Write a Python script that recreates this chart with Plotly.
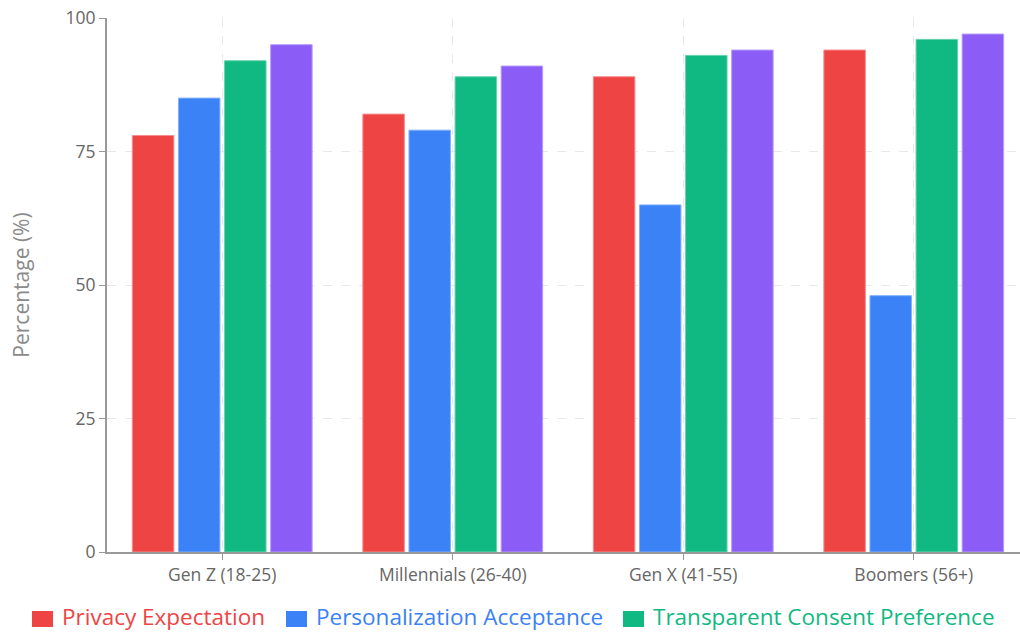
import plotly.graph_objects as go

# Survey results by generation (percent of respondents)
generations = ["Gen Z (18-25)", "Millennials (26-40)", "Gen X (41-55)", "Boomers (56+)"]
privacy_expectation = [78, 82, 89, 94]
personalization_acceptance = [85, 79, 65, 48]
transparent_consent = [92, 89, 93, 96]
data_control = [95, 91, 94, 97]

series_names = [
    "Privacy Expectation",
    "Personalization Acceptance",
    "Transparent Consent Preference",
    "Data Control Importance",
]
series_values = [privacy_expectation, personalization_acceptance, transparent_consent, data_control]
series_colors = ["#EF4444", "#3B82F6", "#10B981", "#8B5CF6"]
series_edges = ["#F58A8A", "#83B0F9", "#66D2AE", "#B69CF9"]

y_ticks = [0, 25, 50, 75, 100]

FONT = "Open Sans"
W, H = 1020, 633
ML, MR, MT, MB = 107, 0, 18, 81
PLOT_W = W - ML - MR
PLOT_H = H - MT - MB

fig = go.Figure()
for name, vals, col, edge in zip(series_names, series_values, series_colors, series_edges):
    fig.add_trace(go.Bar(
        x=generations, y=vals, name=name,
        marker=dict(color=col, line=dict(color=edge, width=1)),
        showlegend=False,
    ))

# category spacing in pixels is 230.5, so the visible range ends just past the last group
cat_px = 230.5
x_end = -0.5 + PLOT_W / cat_px

fig.update_layout(
    width=W, height=H,
    margin=dict(l=ML, r=MR, t=MT, b=MB, pad=0),
    paper_bgcolor="white", plot_bgcolor="white",
    barmode="group", bargap=0.2, bargroupgap=0.1,
    font=dict(family=FONT, color="#666666"),
    xaxis=dict(
        type="category", range=[-0.5, x_end],
        showline=True, linecolor="#999999", linewidth=2,
        ticks="outside", ticklen=6, tickcolor="#999999", tickwidth=1,
        tickfont=dict(size=17.5, color="#666666"),
        showgrid=True, gridcolor="#E8E8E8", griddash="dash", gridwidth=1,
        zeroline=False,
    ),
    yaxis=dict(
        range=[0, 100], tickvals=y_ticks,
        showline=True, linecolor="#999999", linewidth=2,
        ticks="outside", ticklen=6, tickcolor="#999999", tickwidth=1,
        tickfont=dict(size=17.5, color="#666666"),
        showgrid=True, gridcolor="#E8E8E8", griddash="dash", gridwidth=1,
        zeroline=False,
        title=dict(text="Percentage (%)", font=dict(size=21, color="#8A8A8A"), standoff=30),
    ),
)

# Legend row beneath the axis: coloured swatch followed by coloured label
def px_x(p):
    return (p - ML) / PLOT_W

def px_y(p):
    return (H - MB - p) / PLOT_H

legend_swatch_left = [32, 286, 623]
for name, col, left in zip(series_names, series_colors, legend_swatch_left):
    fig.add_shape(
        type="rect", xref="paper", yref="paper",
        x0=px_x(left), x1=px_x(left + 21), y0=px_y(627), y1=px_y(611),
        fillcolor=col, line=dict(width=0),
    )
    fig.add_annotation(
        xref="paper", yref="paper", x=px_x(left + 28), y=px_y(616),
        xanchor="left", yanchor="middle", showarrow=False,
        text=name, font=dict(family=FONT, size=22.5, color=col),
    )

fig.write_html("out.html")
